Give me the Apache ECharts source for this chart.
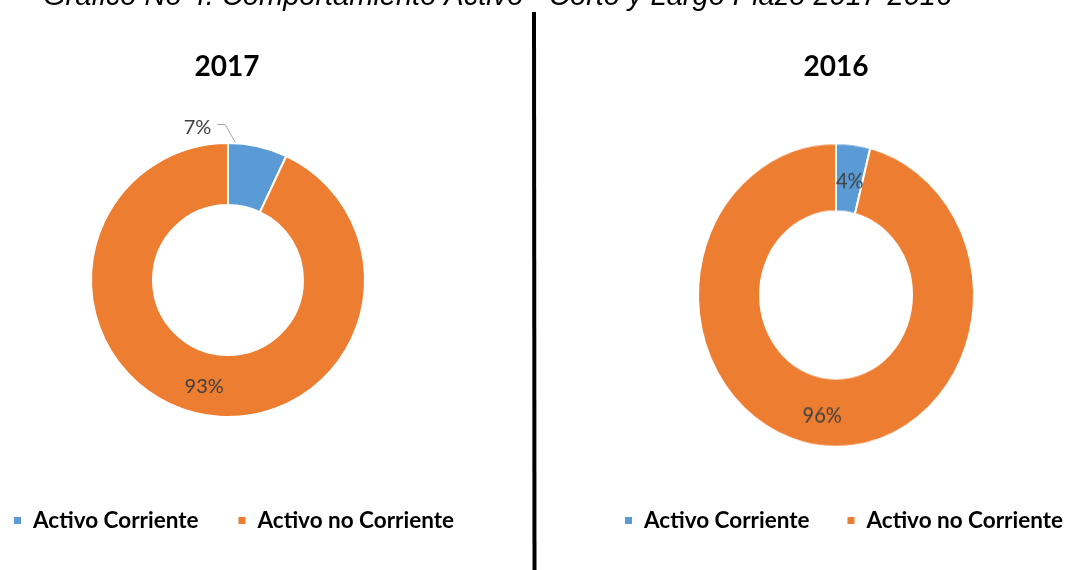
<!DOCTYPE html>
<html>
<head>
<meta charset="utf-8">
<script src="https://cdn.jsdelivr.net/npm/echarts@6/dist/echarts.min.js"></script>
<style>
html,body{margin:0;padding:0;background:#fff;}
#wrap{position:relative;width:1065px;height:570px;overflow:hidden;}
#chart{position:absolute;left:0;top:0;width:1065px;height:570px;}
#chart2{position:absolute;left:686px;top:120px;width:300px;height:350px;transform:scaleY(1.1);transform-origin:150px 175px;pointer-events:none;}
</style>
</head>
<body>
<div id="wrap">
<div id="chart"></div>
<div id="chart2"></div>
</div>
<script>
const categories = ['Activo Corriente', 'Activo no Corriente'];
const values2017 = [7, 93];
const values2016 = [4, 96];
const years = ['2017', '2016'];
const mainTitle = 'Gráfico No 4. Comportamiento Activo - Corto y Largo Plazo 2017-2016';

const colors = ['#5B9BD5', '#ED7D31'];
const labelFont = { fontFamily: 'Lato', fontSize: 20, color: '#404040' };
const legendText = { fontFamily: 'Lato', fontWeight: 'bold', fontSize: 22.5, color: '#000', padding: [0, 0, 0, 6] };
const yearText = { fontFamily: 'Lato', fontWeight: 'bold', fontSize: 28, color: '#000' };

const pie1Center = [228, 280];
const pie1Radius = [75, 137];

const chart = echarts.init(document.getElementById('chart'));
const chart2 = echarts.init(document.getElementById('chart2'));

function mkData(vals, outsideFirst) {
  return vals.map((v, i) => {
    const d = { name: categories[i], value: v };
    if (i === 0 && outsideFirst) {
      d.label = { position: 'outside', ...labelFont };
      d.labelLine = { show: true, length: 8, length2: 8, lineStyle: { color: '#A6A6A6', width: 1 } };
    }
    return d;
  });
}

// anchor of the leader line: inside the first slice, at mid-angle of the slice
function firstSliceAnchor(vals) {
  const sum = vals.reduce((a, b) => a + b, 0);
  const ang = Math.PI * 2 * (vals[0] / 2) / sum;
  const r = (pie1Radius[0] + pie1Radius[1]) / 2 + 4;
  return [pie1Center[0] + r * Math.sin(ang), pie1Center[1] - r * Math.cos(ang)];
}

chart.setOption({
  animation: false,
  color: colors,
  title: [
    { text: mainTitle, left: 38, top: -23,
      textStyle: { fontFamily: 'Liberation Sans', fontStyle: 'italic', fontWeight: 'normal', fontSize: 29, color: '#000' } },
    { text: years[0], left: 222, top: 48, textAlign: 'center', textStyle: yearText },
    { text: years[1], left: 831, top: 48, textAlign: 'center', textStyle: yearText }
  ],
  legend: [
    { data: categories, left: 12, top: 509, padding: 0, icon: 'rect', itemWidth: 9, itemHeight: 9, itemGap: 38, textStyle: legendText },
    { data: categories, left: 623, top: 509, width: 470, padding: 0, icon: 'rect', itemWidth: 9, itemHeight: 9, itemGap: 36, textStyle: legendText }
  ],
  graphic: [
    { type: 'line', shape: { x1: 534, y1: 12, x2: 534.5, y2: 570 }, style: { stroke: '#000', lineWidth: 4 } }
  ],
  series: [
    {
      type: 'pie', center: pie1Center, radius: pie1Radius, startAngle: 90, clockwise: true,
      itemStyle: { borderColor: '#fff', borderWidth: 2 },
      label: { show: true, position: 'inside', formatter: '{c}%', ...labelFont },
      labelLine: { show: false },
      labelLayout: function (p) {
        if (p.dataIndex !== 0) return {};
        const dx = -89, dy = -11;
        const lr = p.labelRect;
        const x0 = lr.x + dx + lr.width + 6;
        const y0 = lr.y + dy + lr.height / 2 - 3;
        return { dx: dx, dy: dy, labelLinePoints: [[x0, y0], [x0 + 8, y0], firstSliceAnchor(values2017)] };
      },
      data: mkData(values2017, true)
    }
  ]
});

chart2.setOption({
  animation: false,
  color: colors,
  series: [
    {
      type: 'pie', center: [150, 175], radius: [76, 138], startAngle: 90, clockwise: true,
      itemStyle: { borderColor: '#fff', borderWidth: 2 },
      label: { show: true, position: 'inside', formatter: '{c}%', ...labelFont },
      labelLine: { show: false },
      labelLayout: function (p) { return p.dataIndex === 0 ? { dy: 6 } : {}; },
      data: mkData(values2016, false)
    }
  ]
});
</script>
</body>
</html>
